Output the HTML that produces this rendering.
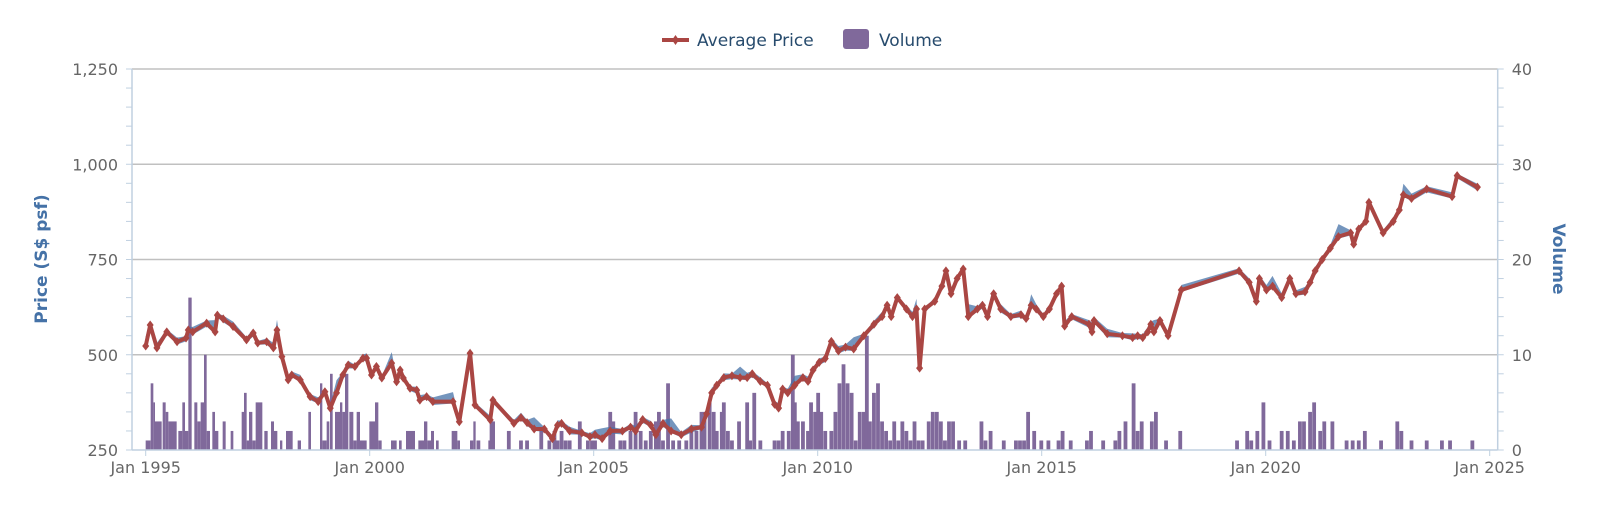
<!DOCTYPE html>
<html><head><meta charset="utf-8"><style>
html,body{margin:0;padding:0;background:#fff;width:1600px;height:505px;overflow:hidden}
svg{display:block;font-family:"DejaVu Sans","Liberation Sans",sans-serif}
</style></head><body>
<svg id="c" width="1600" height="505" viewBox="0 0 1600 505" xmlns="http://www.w3.org/2000/svg">
<g id="grid"></g>
<g id="bars" fill="#80699b"></g>
<path id="band" fill="#4572a7" fill-opacity="0.75" stroke="none"/>
<path id="line" fill="none" stroke="#aa4643" stroke-width="4" stroke-linejoin="round"/>
<g id="marks" fill="#aa4643"></g>
<g id="axes"></g>
<line x1="662" y1="40" x2="689" y2="40" stroke="#aa4643" stroke-width="4"/>
<path d="M675.5 35 L679 40 L675.5 45 L672 40Z" fill="#aa4643"/>
<text x="697" y="46" font-size="17" fill="#274b6d">Average Price</text>
<rect x="843" y="29" width="26" height="20" rx="3" fill="#80699b"/>
<text x="879" y="46" font-size="17" fill="#274b6d">Volume</text>
<text transform="translate(47,259) rotate(-90)" text-anchor="middle" font-size="17" font-weight="bold" fill="#4572a7">Price (S$ psf)</text>
<text transform="translate(1553,259) rotate(90)" text-anchor="middle" font-size="17" font-weight="bold" fill="#4572a7">Volume</text>
</svg>
<script>
var NS="http://www.w3.org/2000/svg";
function el(p,t,a,txt){var e=document.createElementNS(NS,t);for(var k in a)e.setAttribute(k,a[k]);if(txt!=null)e.textContent=txt;document.getElementById(p).appendChild(e);return e;}
var L=132,R=1497.7,T=69,B=450;
function X(y){return 145.7+(y-1995)*44.8;}
function Y(p){return B-(p-250)*0.381;}
function V(v){return B-v*9.525;}
function dx(x){return 1995+(x-142)/44.17;}
[500,750,1000,1250].forEach(function(p){el("grid","line",{x1:L,x2:R,y1:Y(p),y2:Y(p),stroke:"#c0c0c0","stroke-width":1.5});});
el("axes","line",{x1:L,x2:L,y1:T,y2:B,stroke:"#c0d0e0","stroke-width":1.5});
el("axes","line",{x1:R,x2:R,y1:T,y2:B,stroke:"#c0d0e0","stroke-width":1.5});
el("axes","line",{x1:L,x2:R,y1:B,y2:B,stroke:"#c0d0e0","stroke-width":1.5});
for(var p=250;p<=1250;p+=50){el("axes","line",{x1:L-6,x2:L,y1:Y(p),y2:Y(p),stroke:"#c0d0e0","stroke-width":1});}
for(var v=0;v<=40;v+=2){el("axes","line",{x1:R,x2:R+6,y1:V(v),y2:V(v),stroke:"#c0d0e0","stroke-width":1});}
[[250,"250"],[500,"500"],[750,"750"],[1000,"1,000"],[1250,"1,250"]].forEach(function(a){el("axes","text",{x:L-14,y:Y(a[0])+6,"text-anchor":"end","font-size":16,fill:"#666"},a[1]);});
[0,10,20,30,40].forEach(function(v){el("axes","text",{x:R+14,y:V(v)+6,"font-size":16,fill:"#666"},String(v));});
[1995,2000,2005,2010,2015,2020,2025].forEach(function(y){var x=X(y);el("axes","line",{x1:x,x2:x,y1:B,y2:B+6,stroke:"#c0d0e0","stroke-width":1});el("axes","text",{x:x,y:B+23,"text-anchor":"middle","font-size":16,fill:"#666"},"Jan "+y);});
var zb=[[137,152,1],[152,160,7],[160,165,5],[165,185,3],[188,197,5],[197,205,4],[205,230,3],[235,247,2],[247,255,5],[255,265,2],[265,275,16],[283,292,5],[292,302,3],[302,312,5],[312,320,10],[320,330,2],[337,345,4],[345,355,2],[368,377,3],[392,400,2],[425,432,4],[432,440,6],[440,447,1],[447,457,4],[457,467,1],[467,487,5],[493,503,2],[513,522,3],[522,532,2],[540,547,1],[558,578,2],[593,603,1],[625,633,4],[660,667,7],[667,680,1],[680,688,3],[690,698,8],[705,720,4],[720,727,5],[727,735,4],[735,745,8],[748,760,4],[760,770,1],[770,780,4],[780,800,1],[808,825,3],[825,835,5],[835,845,1],[873,890,1],[897,905,1],[918,945,2],[955,972,1],[972,982,3],[982,993,1],[993,1002,2],[1008,1016,1],[1055,1072,2],[1072,1080,1],[1110,1120,1],[1120,1127,3],[1165,1177,1],[1177,1185,3]];
zb.forEach(function(b){var x1=100+b[0]/3,x2=100+b[1]/3;el("bars","rect",{x:x1,y:V(b[2]),width:x2-x1,height:b[2]*9.525});});
var db=[[470,1],[483,3],[500,2],[512,1],[518,1],[532,2],[540,1],[545,2],[548,1],[552,2],[556,1],[560,1],[570,3],[578,1],[582,1],[585,1],[600,4],[603,3],[610,1],[614,1],[620,2],[625,4],[630,2],[635,1],[640,2],[645,3],[648,4],[652,1],[657,7],[662,1],[668,1],[675,1],[680,2],[685,2],[690,4],[693,4],[698,5],[702,4],[705,2],[710,4],[712,5],[716,2],[720,1],[727,3],[735,5],[738,1],[742,6],[748,1],[762,1],[766,1],[770,2],[776,2],[780,10],[782,5],[785,3],[790,3],[795,2],[798,5],[802,4],[805,6],[808,4],[812,2],[818,2],[822,4],[826,7],[830,9],[834,7],[838,6],[842,1],[846,4],[850,4],[853,12],[856,3],[860,6],[864,7],[868,3],[872,2],[876,1],[880,3],[884,1],[888,3],[892,2],[896,1],[900,3],[904,1],[908,1],[914,3],[918,4],[922,4],[926,3],[930,1],[934,3],[938,3],[944,1],[950,1],[966,3],[970,1],[975,2],[988,1],[1000,1],[1004,1],[1008,1],[1012,4],[1018,2],[1025,1],[1032,1],[1042,1],[1046,2],[1054,1],[1070,1],[1074,2],[1086,1],[1098,1],[1102,2],[1108,3],[1116,7],[1120,2],[1124,3],[1134,3],[1138,4],[1148,1],[1162,2],[1218,1],[1228,2],[1232,1],[1238,2],[1244,5],[1250,1],[1262,2],[1268,2],[1274,1],[1280,3],[1284,3],[1290,4],[1294,5],[1300,2],[1304,3],[1312,3],[1326,1],[1332,1],[1338,1],[1344,2],[1360,1],[1376,3],[1380,2],[1390,1],[1405,1],[1420,1],[1428,1],[1450,1]];
db.forEach(function(b){var x=X(dx(b[0]));el("bars","rect",{x:x-1.9,y:V(b[1]),width:3.8,height:b[1]*9.525});});
var P=[[1995.0,523],[1995.1,578],[1995.25,518],[1995.47,560],[1995.7,534],[1995.9,544],[1995.95,565],[1996.05,560],[1996.36,583],[1996.55,560],[1996.6,604],[1996.73,594],[1996.95,574],[1997.25,539],[1997.4,557],[1997.5,531],[1997.7,534],[1997.85,518],[1997.93,565],[1998.04,495],[1998.18,434],[1998.26,447],[1998.45,434],[1998.67,390],[1998.85,377],[1999.0,403],[1999.12,360],[1999.26,400],[1999.4,447],[1999.52,473],[1999.67,469],[1999.85,491],[1999.93,491],[2000.04,447],[2000.15,469],[2000.27,439],[2000.49,478],[2000.6,429],[2000.68,460],[2000.75,439],[2000.9,412],[2001.05,407],[2001.12,381],[2001.27,390],[2001.41,377],[2001.86,377],[2002.0,324],[2002.24,504],[2002.35,368],[2002.69,329],[2002.75,381]];
var D=[[505,320],[512,335],[518,322],[525,305],[535,305],[543,280],[548,315],[552,320],[560,300],[572,295],[580,285],[585,290],[592,280],[600,300],[612,300],[620,310],[625,300],[632,330],[640,315],[645,290],[652,320],[660,300],[670,290],[680,305],[690,310],[695,345],[700,400],[705,420],[712,440],[720,445],[728,440],[735,440],[740,450],[748,430],[755,420],[762,370],[766,360],[770,410],[775,400],[782,420],[790,440],[795,430],[800,460],[806,480],[812,490],[818,535],[825,510],[832,520],[840,515],[850,550],[860,580],[868,600],[873,630],[877,600],[883,650],[892,620],[898,600],[902,620],[905,465],[910,620],[920,640],[927,680],[931,720],[936,660],[942,700],[948,725],[953,600],[962,620],[967,630],[972,600],[978,660],[985,620],[995,600],[1005,605],[1010,595],[1015,630],[1020,620],[1027,600],[1033,620],[1040,660],[1045,680],[1048,575],[1055,600],[1072,580],[1075,560],[1077,590],[1090,555],[1105,550],[1115,545],[1120,550],[1125,545],[1130,560],[1133,580],[1136,560],[1142,590],[1150,550],[1163,670],[1220,720],[1230,690],[1237,640],[1240,700],[1247,670],[1253,680],[1262,650],[1270,700],[1276,660],[1285,665],[1290,690],[1295,720],[1302,750],[1310,780],[1318,810],[1330,820],[1333,790],[1338,830],[1345,850],[1348,900],[1362,820],[1372,850],[1378,880],[1382,920],[1390,910],[1405,935],[1430,915],[1435,970],[1455,940]];
D.forEach(function(d){P.push([dx(d[0]),d[1]]);});
var d="";P.forEach(function(p,i){d+=(i?"L":"M")+X(p[0]).toFixed(1)+" "+Y(p[1]).toFixed(1);});
document.getElementById("line").setAttribute("d",d);
var up=[],dn=[];P.forEach(function(p,i){var w=5+((i*7)%5)*2+((i%9)==0?20:0);up.push(X(p[0]).toFixed(1)+" "+Y(p[1]+w).toFixed(1));dn.unshift(X(p[0]).toFixed(1)+" "+Y(p[1]-(5+(i%3)*2)).toFixed(1));});
document.getElementById("band").setAttribute("d","M"+up.join("L")+"L"+dn.join("L")+"Z");
P.forEach(function(p){var x=X(p[0]),y=Y(p[1]);el("marks","path",{d:"M"+x+" "+(y-4.5)+"L"+(x+3.5)+" "+y+"L"+x+" "+(y+4.5)+"L"+(x-3.5)+" "+y+"Z"});});
</script>
</body></html>
